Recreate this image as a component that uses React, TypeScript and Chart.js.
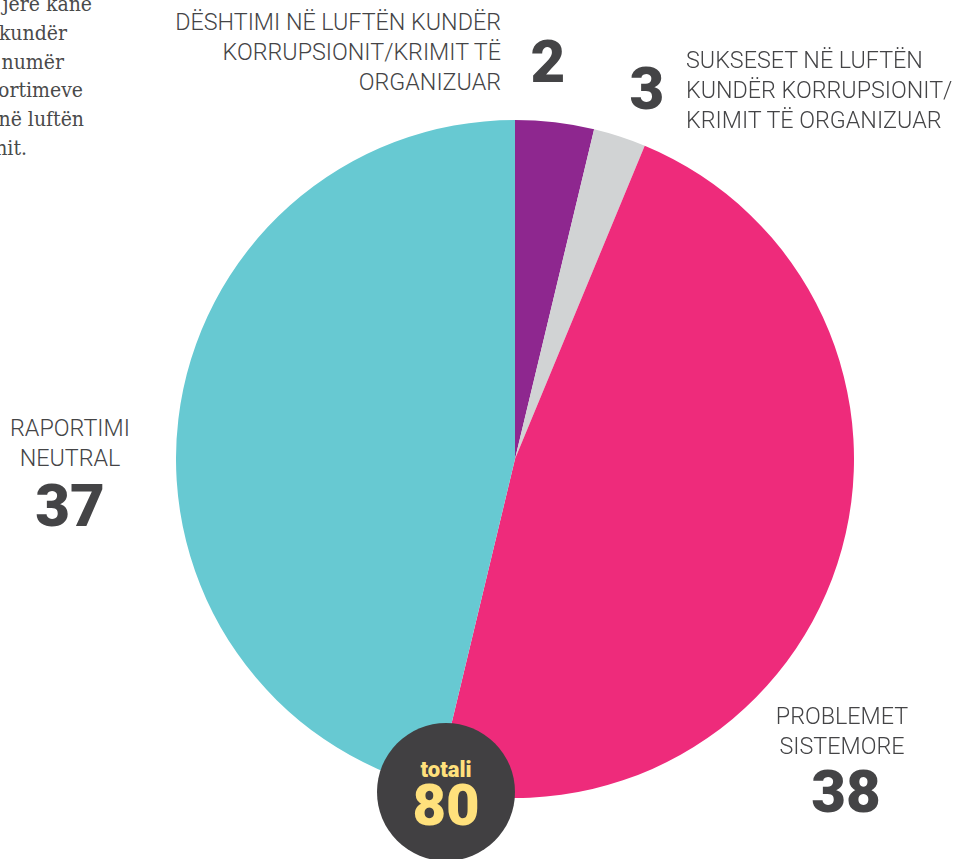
import React, { useEffect, useRef } from "react";
import { Chart, registerables } from "chart.js";

Chart.register(...registerables);

const categories = [
  "DËSHTIMI NË LUFTËN KUNDËR KORRUPSIONIT/KRIMIT TË ORGANIZUAR",
  "SUKSESET NË LUFTËN KUNDËR KORRUPSIONIT/KRIMIT TË ORGANIZUAR",
  "PROBLEMET SISTEMORE",
  "RAPORTIMI NEUTRAL",
];
const sliceValues = [3, 2, 38, 37];
const labelNumbers = [2, 3, 38, 37];
const sliceColors = ["#8E278F", "#D1D3D4", "#EE2B7B", "#67C9D2"];
const totalValue = 80;
const introLines = ["jere kane", "kundër", "numër", "ortimeve", "në luftën", "nit."];
const introRightEdges = [92, 67, 64, 83, 84, 27];

const labelFont = "Roboto, 'Noto Sans', sans-serif";
const textColor = "#444446";

function App() {
  const canvasRef = useRef<HTMLCanvasElement | null>(null);

  useEffect(() => {
    if (!canvasRef.current) return;
    const chart = new Chart(canvasRef.current, {
      type: "pie",
      data: {
        labels: categories,
        datasets: [
          {
            data: sliceValues,
            backgroundColor: sliceColors,
            borderWidth: 0,
          },
        ],
      },
      options: {
        responsive: false,
        animation: false,
        layout: { padding: 0 },
        plugins: {
          legend: { display: false },
          tooltip: { enabled: false },
        },
      },
    });
    return () => chart.destroy();
  }, []);

  const lbl: React.CSSProperties = {
    position: "absolute",
    fontFamily: labelFont,
    fontWeight: 300,
    fontSize: 23.3,
    lineHeight: "30px",
    color: textColor,
    whiteSpace: "nowrap",
  };
  const num: React.CSSProperties = {
    position: "absolute",
    fontFamily: labelFont,
    fontWeight: 900,
    fontSize: 60,
    lineHeight: "60px",
    color: "#444446",
    whiteSpace: "nowrap",
  };

  return (
    <div
      style={{
        position: "absolute",
        left: 0,
        top: 0,
        width: 956,
        height: 859,
        overflow: "hidden",
        background: "#ffffff",
      }}
    >
      {introLines.map((l, i) => (
        <div
          key={i}
          style={{
            position: "absolute",
            right: 956 - introRightEdges[i],
            top: -10 + i * 28.8,
            fontFamily: "'DejaVu Serif', serif",
            fontStretch: "condensed",
            fontSize: 21,
            lineHeight: "28.8px",
            color: "#4a4a4a",
            whiteSpace: "nowrap",
          }}
        >
          {l}
        </div>
      ))}

      <canvas
        ref={canvasRef}
        width={678}
        height={678}
        style={{ position: "absolute", left: 176, top: 120, width: 678, height: 678 }}
      />

      {/* DËSHTIMI */}
      <div style={{ ...lbl, right: 956 - 501, top: 7, textAlign: "right" }}>
        DËSHTIMI NË LUFTËN KUNDËR
        <br />
        KORRUPSIONIT/KRIMIT TË
        <br />
        ORGANIZUAR
      </div>
      <div style={{ ...num, left: 548, top: 32, transform: "translateX(-50%)" }}>{labelNumbers[0]}</div>

      {/* SUKSESET */}
      <div style={{ ...lbl, left: 686, top: 45, textAlign: "left" }}>
        SUKSESET NË LUFTËN
        <br />
        KUNDËR KORRUPSIONIT/
        <br />
        KRIMIT TË ORGANIZUAR
      </div>
      <div style={{ ...num, left: 647, top: 59, transform: "translateX(-50%)" }}>{labelNumbers[1]}</div>

      {/* RAPORTIMI NEUTRAL */}
      <div style={{ ...lbl, left: 70, top: 413, textAlign: "center", transform: "translateX(-50%)" }}>
        RAPORTIMI
        <br />
        NEUTRAL
      </div>
      <div style={{ ...num, left: 70, top: 476, transform: "translateX(-50%)" }}>{labelNumbers[3]}</div>

      {/* PROBLEMET SISTEMORE */}
      <div style={{ ...lbl, left: 842, top: 701, textAlign: "center", transform: "translateX(-50%)" }}>
        PROBLEMET
        <br />
        SISTEMORE
      </div>
      <div style={{ ...num, left: 846, top: 762, transform: "translateX(-50%)" }}>{labelNumbers[2]}</div>

      {/* total badge */}
      <div
        style={{
          position: "absolute",
          left: 446 - 69,
          top: 792 - 69,
          width: 138,
          height: 138,
          borderRadius: "50%",
          background: "#414042",
        }}
      />
      <div
        style={{
          position: "absolute",
          left: 446,
          top: 757,
          transform: "translateX(-50%)",
          fontFamily: labelFont,
          fontWeight: 900,
          fontSize: 22,
          lineHeight: "26px",
          color: "#FFE17C",
          whiteSpace: "nowrap",
        }}
      >
        totali
      </div>
      <div
        style={{
          position: "absolute",
          left: 446,
          top: 776,
          transform: "translateX(-50%)",
          fontFamily: labelFont,
          fontWeight: 900,
          fontSize: 58,
          lineHeight: "58px",
          color: "#FFE17C",
          whiteSpace: "nowrap",
        }}
      >
        {totalValue}
      </div>
    </div>
  );
}

export default App;
